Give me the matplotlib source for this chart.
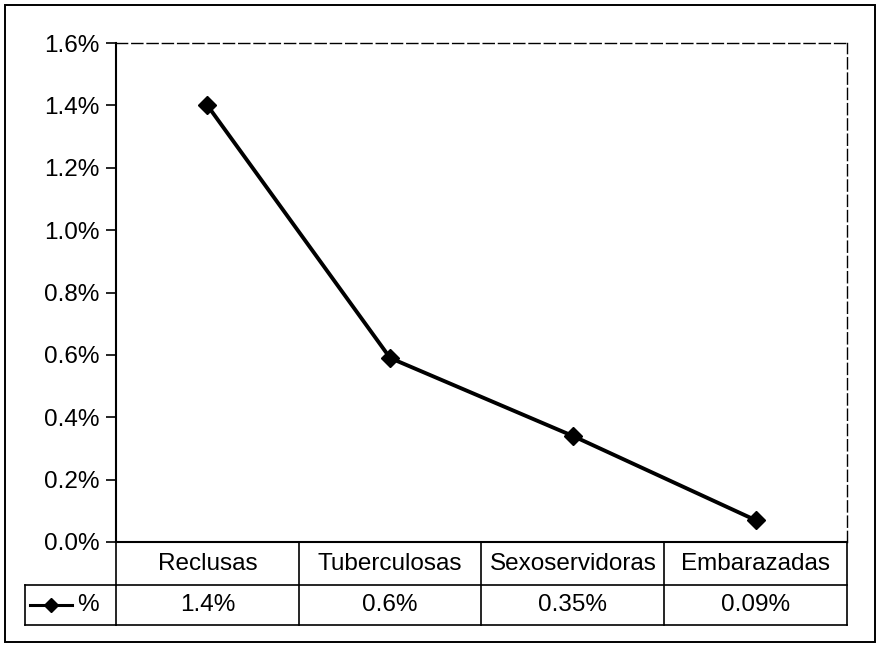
import matplotlib.pyplot as plt
from matplotlib.patches import Rectangle
from matplotlib.lines import Line2D
import matplotlib.transforms as mtransforms

categories = ['Reclusas', 'Tuberculosas', 'Sexoservidoras', 'Embarazadas']
values = [1.40, 0.59, 0.34, 0.07]          # plotted points
table_labels = ['1.4%', '0.6%', '0.35%', '0.09%']
series_name = '%'
yticks = [0.0, 0.2, 0.4, 0.6, 0.8, 1.0, 1.2, 1.4, 1.6]

plt.rcParams['font.family'] = ['Liberation Sans', 'DejaVu Sans']
FS = 17.5

fig = plt.figure(figsize=(8.79, 6.46), dpi=100)
W, H = 879, 646
ax = fig.add_axes([116 / W, 1 - 542 / H, (847 - 116) / W, (542 - 43) / H])

x = list(range(len(categories)))
ax.plot(x, values, color='black', lw=2.8, marker='D', markersize=9.5)

ax.set_xlim(-0.5, len(categories) - 0.5)
ax.set_ylim(0, 1.6)
ax.set_yticks(yticks)
ax.set_yticklabels([f'{t:.1f}%' for t in yticks], fontsize=FS)
ax.tick_params(axis='y', direction='out', length=7, width=1.2, pad=5)
ax.set_xticks([])
ax.spines['left'].set_linewidth(1.5)
ax.spines['bottom'].set_linewidth(1.5)
for s in ['top', 'right']:
    ax.spines[s].set_linestyle((0, (8, 3)))
    ax.spines[s].set_linewidth(1.0)

# data table under the plot (Excel style)
trans = mtransforms.blended_transform_factory(ax.transData, ax.transAxes)
ax_h = 542 - 43
r1 = -43 / ax_h   # bottom of header row
r2 = -83 / ax_h   # bottom of value row
kw = dict(color='black', lw=1.2, transform=trans, clip_on=False)
for b in [i - 0.5 for i in range(len(categories) + 1)]:
    ax.add_line(Line2D([b, b], [0, r2], **kw))
ax.add_line(Line2D([-0.5, len(categories) - 0.5], [r1, r1], **kw))
ax.add_line(Line2D([-0.5, len(categories) - 0.5], [r2, r2], **kw))
for i, (c, lab) in enumerate(zip(categories, table_labels)):
    ax.text(i, r1 / 2, c, transform=trans, ha='center', va='center', fontsize=FS)
    ax.text(i, (r1 + r2) / 2, lab, transform=trans, ha='center', va='center', fontsize=FS)

# legend cell on the left of the value row
fkw = dict(color='black', lw=1.2, transform=fig.transFigure)
fig.add_artist(Line2D([25 / W, 116 / W], [1 - 585 / H, 1 - 585 / H], **fkw))
fig.add_artist(Line2D([25 / W, 116 / W], [1 - 625 / H, 1 - 625 / H], **fkw))
fig.add_artist(Line2D([25 / W, 25 / W], [1 - 585 / H, 1 - 625 / H], **fkw))
fig.add_artist(Line2D([30 / W, 72 / W], [1 - 605 / H, 1 - 605 / H], color='black',
                      lw=2.2, transform=fig.transFigure))
fig.add_artist(Line2D([51 / W], [1 - 605 / H], color='black', marker='D',
                      markersize=7, transform=fig.transFigure))
fig.text(88 / W, 1 - 605 / H, series_name, ha='center', va='center', fontsize=FS)

# outer chart border
fig.add_artist(Rectangle((5 / W, 1 - 642 / H), 870 / W, 637 / H, fill=False,
                         edgecolor='black', lw=1.4, transform=fig.transFigure))

fig.savefig('out.png', dpi=100)
